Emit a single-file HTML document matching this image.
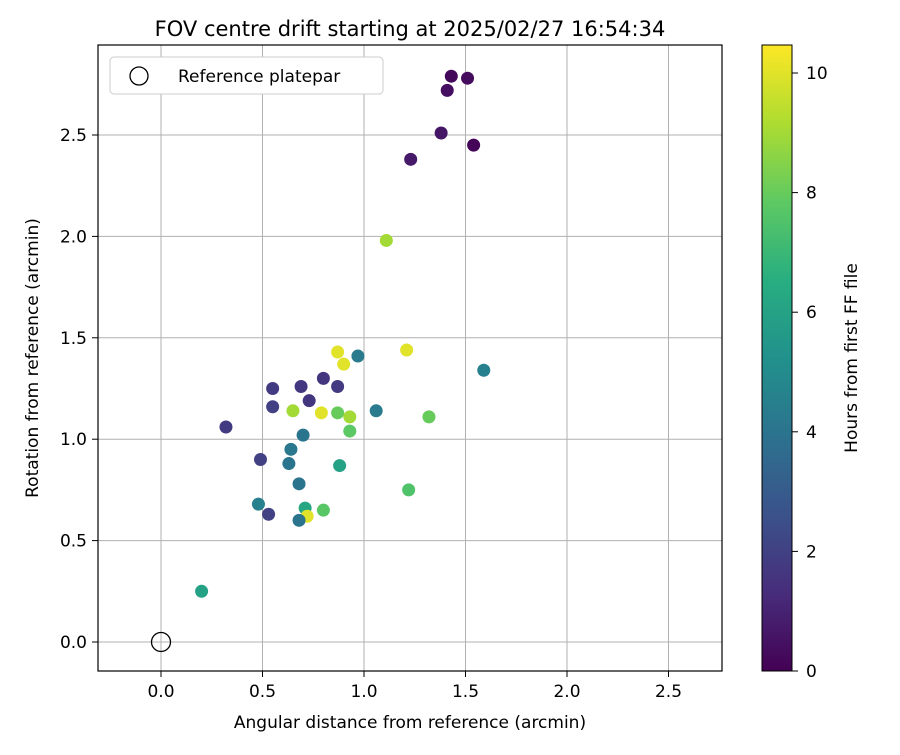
<!DOCTYPE html>
<html><head><meta charset="utf-8"><style>
body{margin:0;background:#fff;font-family:"Liberation Sans","DejaVu Sans",sans-serif}
svg text{font-family:"DejaVu Sans","Liberation Sans",sans-serif;fill:#000}
</style></head><body>
<svg id="c" width="900" height="750" xmlns="http://www.w3.org/2000/svg">
<rect width="900" height="750" fill="#fff"/>
<text x="410" y="36" font-size="21" text-anchor="middle">FOV centre drift starting at 2025/02/27 16:54:34</text>
<g id="grid"></g><g id="pts"></g>
<rect x="98" y="45" width="624" height="626" fill="none" stroke="#000" stroke-width="1.2"/>
<g id="ticks"></g>
<text x="410" y="728" font-size="17" text-anchor="middle">Angular distance from reference (arcmin)</text>
<text transform="translate(38,358) rotate(-90)" font-size="17" text-anchor="middle">Rotation from reference (arcmin)</text>
<g>
<rect x="110" y="57" width="273" height="37" rx="4" fill="#fff" stroke="#ccc"/>
<circle cx="139" cy="76" r="9" fill="none" stroke="#000" stroke-width="1.3"/>
<text x="178" y="82" font-size="17">Reference platepar</text>
</g>
<defs><linearGradient id="vg" x1="0" y1="1" x2="0" y2="0">
<stop offset="0" stop-color="#440154"/><stop offset="0.125" stop-color="#472d7b"/><stop offset="0.25" stop-color="#3b528b"/><stop offset="0.375" stop-color="#2c728e"/><stop offset="0.5" stop-color="#21918c"/><stop offset="0.625" stop-color="#28ae80"/><stop offset="0.75" stop-color="#5ec962"/><stop offset="0.875" stop-color="#addc30"/><stop offset="1" stop-color="#fde725"/></linearGradient></defs>
<rect x="762" y="45" width="30" height="626" fill="url(#vg)" stroke="#000" stroke-width="1"/>
<g id="cb"></g>
<text transform="translate(857,358) rotate(-90)" font-size="17" text-anchor="middle">Hours from first FF file</text>
</svg>
<script>
const xVals=[1.43,1.51,1.41,1.38,1.54,1.23,1.11,0.87,1.21,0.90,0.97,1.59,0.80,0.55,0.69,0.87,0.73,0.55,0.65,0.79,0.87,0.93,1.06,1.32,0.93,0.32,0.70,0.64,0.63,0.49,0.88,0.68,1.22,0.48,0.71,0.80,0.53,0.72,0.68,0.20];
const yVals=[2.79,2.78,2.72,2.51,2.45,2.38,1.98,1.43,1.44,1.37,1.41,1.34,1.30,1.25,1.26,1.26,1.19,1.16,1.14,1.13,1.13,1.11,1.14,1.11,1.04,1.06,1.02,0.95,0.88,0.90,0.87,0.78,0.75,0.68,0.66,0.65,0.63,0.62,0.60,0.25];
const hours=[0.2,0.3,0.4,0.6,0.1,0.7,9,10,10,10,4.3,4.5,1.6,1.8,1.7,1.8,1.6,2,9,10,8,9,4.3,8,7.8,1.8,4,4.2,4,2,6,4,7.5,4.5,6.2,7.7,2,10,4,6];
const xTicks=[0,0.5,1.0,1.5,2.0,2.5];
const yTicks=[0,0.5,1.0,1.5,2.0,2.5];
const cTicks=[0,2,4,6,8,10];
const X=v=>161+v*203, Y=v=>642-v*202.8, C=v=>671-v*59.8;
const vir=["#440154","#472d7b","#3b528b","#2c728e","#21918c","#28ae80","#5ec962","#addc30","#fde725"];
function col(h){let t=Math.max(0,Math.min(1,h/10.47))*8,i=Math.min(7,Math.floor(t)),f=t-i;
const a=vir[i],b=vir[i+1],p=s=>[1,3,5].map(k=>parseInt(s.substr(k,2),16));
const A=p(a),B=p(b);return "rgb("+A.map((v,k)=>Math.round(v+(B[k]-v)*f)).join(",")+")";}
const NS="http://www.w3.org/2000/svg";
function mk(tag,at,par){const e=document.createElementNS(NS,tag);for(const k in at)e.setAttribute(k,at[k]);document.getElementById(par).appendChild(e);return e;}
xTicks.forEach(v=>{const x=X(v);
const g=mk("line",{x1:x,x2:x,y1:45,y2:671,stroke:"#b0b0b0","stroke-width":1},"grid");


mk("line",{x1:x,x2:x,y1:671,y2:677,stroke:"#000"},"ticks");
const t=mk("text",{x:x,y:697,"font-size":17,"text-anchor":"middle"},"ticks");t.textContent=v.toFixed(1);

});
yTicks.forEach(v=>{const y=Y(v);
const g=mk("line",{x1:98,x2:722,y1:y,y2:y,stroke:"#b0b0b0","stroke-width":1},"grid");


mk("line",{x1:92,x2:98,y1:y,y2:y,stroke:"#000"},"ticks");
const t=mk("text",{x:87,y:y+6,"font-size":17,"text-anchor":"end"},"ticks");t.textContent=v.toFixed(1);

});
cTicks.forEach(v=>{const y=C(v);
mk("line",{x1:792,x2:798,y1:y,y2:y,stroke:"#000"},"cb");
const t=mk("text",{x:806,y:y+6,"font-size":17},"cb");t.textContent=v;

});
xVals.forEach((v,i)=>{const c=mk("circle",{cx:X(v),cy:Y(yVals[i]),r:6.5,fill:col(hours[i])},"pts");

});
const r=mk("circle",{cx:X(0),cy:Y(0),r:9.5,fill:"none",stroke:"#000","stroke-width":1.3},"pts");


</script>
</body></html>
